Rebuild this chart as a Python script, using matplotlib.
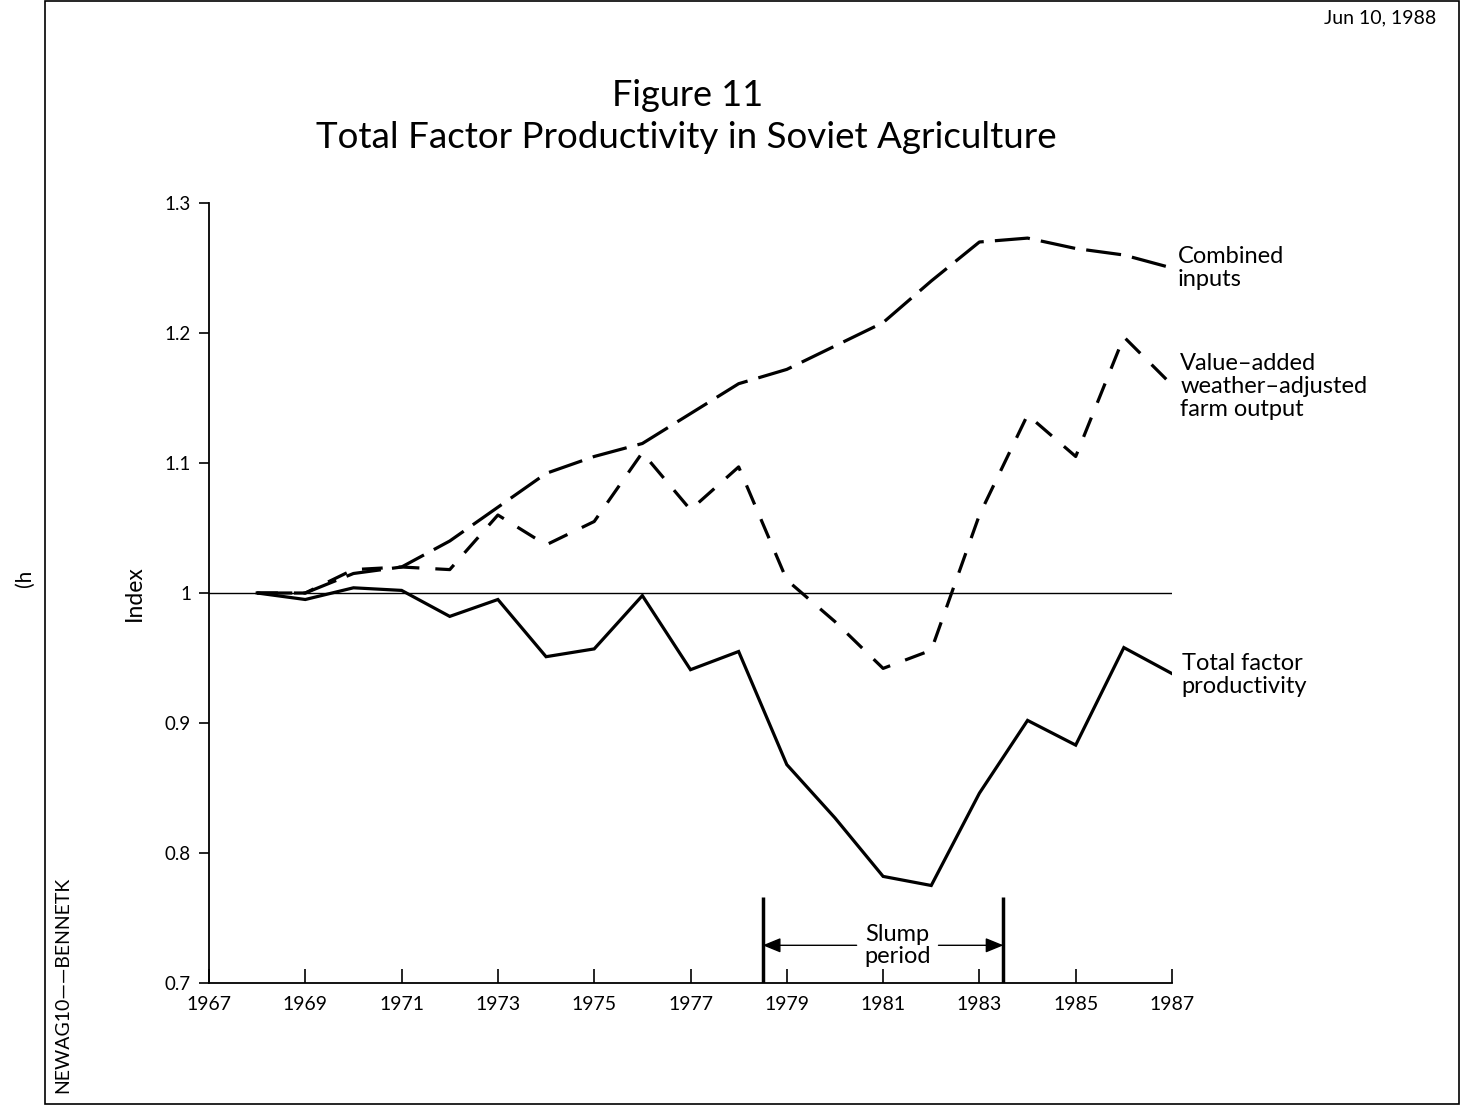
import matplotlib
matplotlib.use("Agg")
import matplotlib.pyplot as plt
from matplotlib.patches import Rectangle

plt.rcParams['font.family'] = ['Lato', 'DejaVu Sans']

years = list(range(1968, 1988))
tfp = [1.000, 0.995, 1.004, 1.002, 0.982, 0.995, 0.951, 0.957, 0.998, 0.941,
       0.955, 0.868, 0.827, 0.782, 0.775, 0.846, 0.902, 0.883, 0.958, 0.938]
combined_inputs = [1.000, 1.000, 1.015, 1.020, 1.040, 1.066, 1.092, 1.105, 1.115, 1.138,
                   1.161, 1.172, 1.190, 1.208, 1.240, 1.270, 1.273, 1.265, 1.260, 1.250]
value_added = [1.000, 1.000, 1.018, 1.020, 1.018, 1.060, 1.037, 1.055, 1.108, 1.064,
               1.097, 1.010, 0.978, 0.942, 0.956, 1.060, 1.137, 1.105, 1.197, 1.160]

xticks = list(range(1967, 1988, 2))
yticks = [0.7, 0.8, 0.9, 1.0, 1.1, 1.2, 1.3]
ytick_labels = ['0.7', '0.8', '0.9', '1', '1.1', '1.2', '1.3']
slump_start, slump_end = 1978.5, 1983.5

W, H = 1472, 1107
fig = plt.figure(figsize=(W / 100, H / 100), dpi=100)
ax = fig.add_axes([209 / W, 1 - 983 / H, 963 / W, 780 / H])

ax.set_xlim(1967, 1987)
ax.set_ylim(0.7, 1.3)

# reference line at 1.0
ax.plot([1967, 1987], [1.0, 1.0], color='black', lw=1.0)

ax.plot(years, tfp, color='black', lw=2.3, solid_joinstyle='miter')
l1, = ax.plot(years, combined_inputs, color='black', lw=2.3)
l1.set_dashes([11, 3.5])
l2, = ax.plot(years, value_added, color='black', lw=2.3)
l2.set_dashes([6.5, 5])

for sp in ['top', 'right']:
    ax.spines[sp].set_visible(False)
for sp in ['left', 'bottom']:
    ax.spines[sp].set_linewidth(1.3)

ax.set_xticks(xticks)
ax.set_xticklabels([str(x) for x in xticks], fontsize=14)
ax.set_yticks(yticks)
ax.set_yticklabels(ytick_labels, fontsize=13.5)
ax.tick_params(axis='x', direction='in', length=10, width=1.2, pad=9)
ax.tick_params(axis='y', direction='out', length=7, width=1.2, pad=6)
ax.set_ylabel('Index', fontsize=16.5, labelpad=14)

# slump period marker
for xs in (slump_start, slump_end):
    ax.plot([xs, xs], [0.7, 0.766], color='black', lw=2.5, solid_capstyle='butt')
ax.annotate('', xy=(slump_start, 0.729), xytext=(1980.45, 0.729),
            arrowprops=dict(arrowstyle='-|>,head_length=1.1,head_width=0.45',
                            color='black', lw=1.0, shrinkA=0, shrinkB=0))
ax.annotate('', xy=(slump_end, 0.729), xytext=(1982.15, 0.729),
            arrowprops=dict(arrowstyle='-|>,head_length=1.1,head_width=0.45',
                            color='black', lw=1.0, shrinkA=0, shrinkB=0))
ax.text(1981.3, 0.729, 'Slump\nperiod', ha='center', va='center', fontsize=17,
        linespacing=1.08)

# series labels
ax.text(1987.12, 1.250, 'Combined\ninputs', ha='left', va='center', fontsize=17,
        linespacing=1.12, clip_on=False)
ax.text(1987.17, 1.159, 'Value\u2013added\nweather\u2013adjusted\nfarm output', ha='left',
        va='center', fontsize=17, linespacing=1.12, clip_on=False)
ax.text(1987.2, 0.937, 'Total factor\nproductivity', ha='left', va='center', fontsize=17,
        linespacing=1.12, clip_on=False)

# titles
fig.text(688 / W, 1 - 95 / H, 'Figure 11', ha='center', va='center', fontsize=26)
fig.text(686 / W, 1 - 137 / H, 'Total Factor Productivity in Soviet Agriculture',
         ha='center', va='center', fontsize=26.5)

# page marks
fig.text(1380 / W, 1 - 18 / H, 'Jun 10, 1988', ha='center', va='center', fontsize=14)
fig.text(63 / W, 1 - 985 / H, 'NEWAG10\u2014\u2014BENNETK', ha='center', va='center',
         rotation=90, fontsize=14)
fig.text(25 / W, 1 - 578 / H, '(h', ha='center', va='center', rotation=90, fontsize=15)

# page border
fig.add_artist(Rectangle((45 / W, 3 / H), (1459 - 45) / W, (1106 - 3) / H,
                         transform=fig.transFigure, fill=False, lw=1.2,
                         edgecolor='black'))

fig.savefig('out.png', dpi=100)
